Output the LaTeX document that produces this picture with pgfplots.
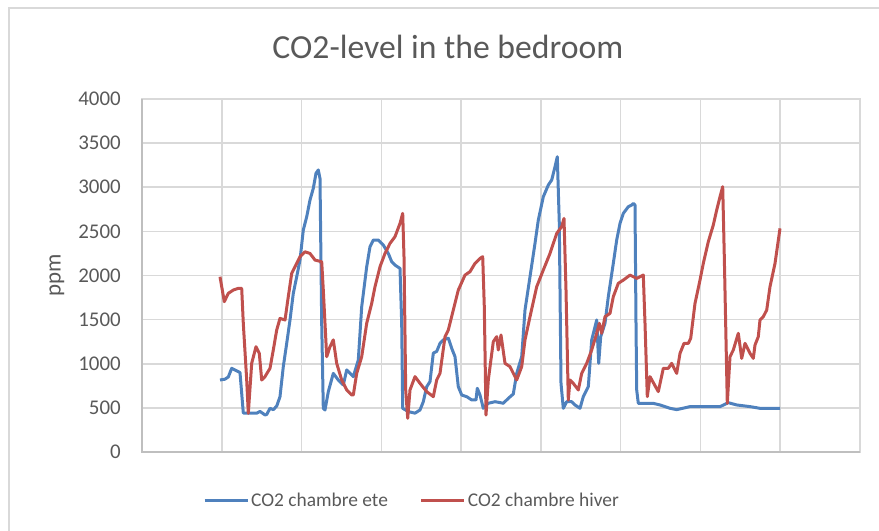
\documentclass[border=0pt]{standalone}
\usepackage{pgfplots}
\pgfplotsset{compat=1.18}
\usepackage{pgfplotstable}
\usepackage{fontspec}
\setmainfont{Carlito}
\definecolor{ete}{HTML}{4F81BD}
\definecolor{hiver}{HTML}{C0504D}
\definecolor{gridc}{HTML}{D9D9D9}
\definecolor{axc}{HTML}{BFBFBF}
\definecolor{txt}{HTML}{595959}

\pgfplotstableread{
x y
220 816
225 825
228.3 850
231.7 948
236.7 920
240 900
243.3 442
250 440
256.7 440
260 460
265 420
266.7 425
270 495
273.3 480
276.7 520
280 627
283.3 967
286.7 1231
290 1496
293.3 1798
296.7 1986
300 2175
303.3 2515
306.7 2666
310 2855
313.3 2988
316 3158
318.3 3196
320 3100
321.7 1458
323.3 495
325 476
328.3 683
333.3 891
338.3 816
343.3 760
346.7 930
353.3 854
358.3 1042
361.7 1646
366.7 2099
370 2326
373.3 2402
378.3 2402
383.3 2345
388.3 2250
391.7 2156
395 2118
400 2080
401.7 1458
402.7 495
408.3 458
415 440
420 476
423.3 570
426.7 740
430 797
433.3 1120
436.7 1140
440 1231
443.3 1270
448.3 1290
451.7 1175
455 1080
458.3 740
461.7 646
466.7 627
471.7 590
476 590
477.3 722
480 646
483.3 495
488.3 552
495 570
500 560
503.3 552
508.3 608
513.3 657
516.7 891
521.7 1080
525 1609
530 1986
535 2364
538.3 2628
543.3 2892
548.3 3025
551.7 3082
555 3232
557.3 3346
559.3 2590
561 778
563.3 495
566.7 570
571.7 570
575 533
580 495
583.3 627
588.3 740
591.7 1270
596.7 1496
598.7 1005
600.7 1307
605 1458
608.3 1760
613.3 2137
616.7 2402
620 2590
623.3 2704
628.3 2779
631.7 2798
633.3 2817
635 2800
636 1458
636.7 703
638.3 551
653.3 551
660 533
670 495
676.7 480
690 514
720 514
728.3 559
736.7 533
750 514
760 495
780 495
}\ete

\pgfplotstableread{
x y
220 1986
224.3 1703
228.3 1798
233.3 1835
238.3 1854
241.7 1854
243.3 1458
246.7 816
248.3 438
251.7 1005
256 1193
259.3 1118
261.7 816
265 854
270 948
273.3 1156
276.7 1382
280 1514
285 1496
288.3 1760
291.7 2024
296.7 2137
300 2213
305 2269
310 2250
315 2175
321.7 2156
323.3 1835
326.7 1080
330 1193
333.3 1270
336.7 1005
341.7 816
346.7 703
351.7 646
353.3 646
356.7 891
361.7 1080
366.7 1458
371.7 1684
375 1873
380 2099
385 2250
390 2364
395 2440
400 2590
402.7 2704
404 2213
405.7 703
407.7 382
410 703
415 854
420 778
426.7 684
433.3 627
436.7 816
440 891
445 1307
448.3 1382
453.3 1609
458.3 1835
465 2005
470 2043
475 2137
480 2194
482.7 2213
484.3 1646
486 419
488.3 816
493.3 1250
496.7 1307
498.3 1156
501 1326
505 1005
510 967
516.7 816
521.7 967
525 1270
530 1533
536.7 1873
543.3 2062
550 2250
556.7 2477
561.7 2553
564 2647
566 1835
568.3 589
570 816
573.3 778
578.3 703
581.7 891
586.7 1005
591.7 1156
596.7 1345
599.3 1458
601.7 1345
605 1533
610 1571
613.3 1760
618.3 1911
623.3 1948
630 2005
636.7 1967
643.3 2005
645 1458
647.3 627
650 854
658.3 684
663.3 948
668.3 948
671.7 1005
676.7 891
680 1118
684 1231
688.3 1231
690.7 1288
695 1684
700 1948
703.3 2137
708.3 2383
713.3 2572
716.7 2742
720 2892
722.7 3006
724.3 2213
727.3 551
730 1080
733.3 1156
738.3 1345
741.7 1061
745 1231
750 1118
753.3 1061
755 1212
758.3 1307
760 1496
763.3 1533
766.7 1609
770 1873
775 2137
780 2534
}\hiver

\begin{document}
\begin{tikzpicture}
\path[use as bounding box] (-142bp,-79bp) rectangle (737bp,452bp);
\draw[gridc, line width=1.5bp] (-133bp,-90bp) -- (-133bp,444bp) -- (760bp,444bp);
\begin{axis}[
  at={(0,0)}, anchor=south west,
  width=718bp, height=353bp, scale only axis,
  xmin=142, xmax=860,
  ymin=0, ymax=4000,
  xtick={142,221.8,301.6,381.3,461.1,540.9,620.7,700.4,780.2,860},
  xticklabels={},
  ytick={0,500,...,4000},
  major tick length=0pt,
  grid=major,
  major grid style={gridc, line width=1.5bp},
  axis line style={gridc, line width=1.5bp},
  /pgf/number format/assume math mode=true,
  /pgf/number format/1000 sep={},
  yticklabel style={font=\fontsize{21}{24}\selectfont, text=txt, anchor=east, inner sep=0pt, xshift=-21bp},
  ylabel={ppm},
  ylabel style={at={(axis description cs:-0.1184,0.5)}, anchor=center, rotate=0, font=\fontsize{23}{26}\selectfont, text=txt},
  title={CO2-level in the bedroom},
  title style={at={(axis description cs:0.426,1.130)}, anchor=center, font=\fontsize{33.8}{38}\selectfont, text=txt},
  legend style={at={(axis description cs:0.376,-0.136)}, anchor=center, draw=none, fill=none,
    legend columns=2, font=\fontsize{19.5}{22}\selectfont, text=txt,
    /tikz/every even column/.append style={column sep=30bp}},
  legend image code/.code={\draw[#1] (0bp,0bp) -- (43bp,0bp);},
  clip=false,
]
\addplot[ete, line width=3bp, line join=round] table[x=x,y=y] {\ete};
\addlegendentry{CO2 chambre ete}
\addplot[hiver, line width=3bp, line join=round] table[x=x,y=y] {\hiver};
\addlegendentry{CO2 chambre hiver}
\draw[axc, line width=1.5bp] (rel axis cs:0,1) -- (rel axis cs:0,0) -- (rel axis cs:1,0);
\end{axis}
\end{tikzpicture}
\end{document}
